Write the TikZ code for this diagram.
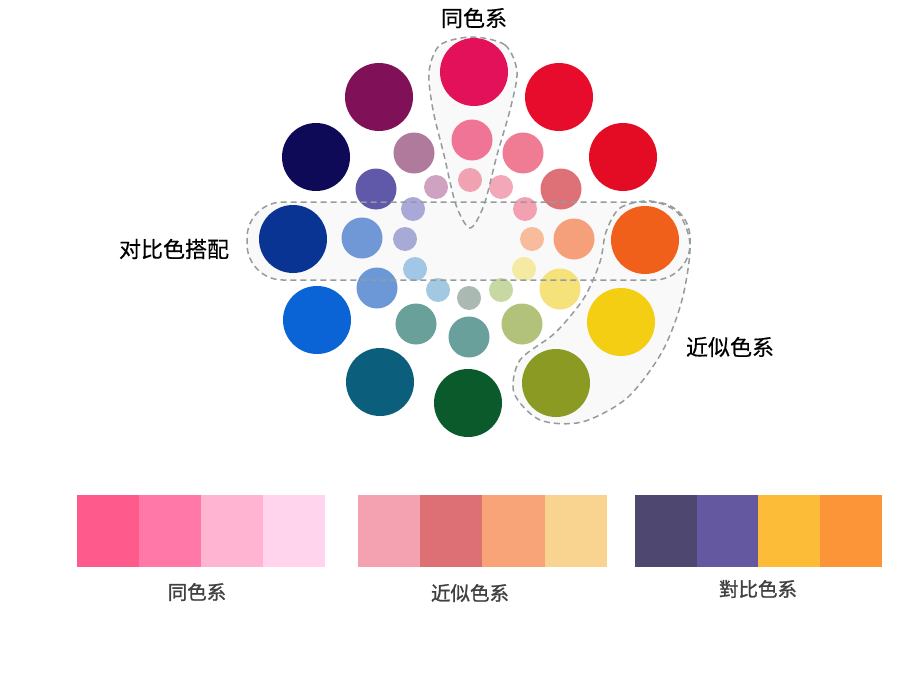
\documentclass[tikz,border=0pt]{standalone}
\usepackage{fontspec}
\usepackage{tikz}
\newfontfamily\cjk[FakeBold=0.4]{Noto Sans CJK SC}
\newfontfamily\cjkheavy[FakeBold=1.2]{Noto Sans CJK SC}

\definecolor{oCrimson}{HTML}{E3105A}
\definecolor{oRedA}{HTML}{E80C2C}
\definecolor{oRedB}{HTML}{E40C24}
\definecolor{oOrange}{HTML}{F0601A}
\definecolor{oYellow}{HTML}{F4CE12}
\definecolor{oOlive}{HTML}{8A9A22}
\definecolor{oGreen}{HTML}{0B5A2C}
\definecolor{oTeal}{HTML}{0B5E7C}
\definecolor{oBlue}{HTML}{0A64D6}
\definecolor{oCobalt}{HTML}{0A3494}
\definecolor{oNavy}{HTML}{0E0A58}
\definecolor{oPlum}{HTML}{801058}

\definecolor{mPink}{HTML}{F07496}
\definecolor{mPinkB}{HTML}{F07C94}
\definecolor{mRose}{HTML}{DE7078}
\definecolor{mSalmon}{HTML}{F5A07A}
\definecolor{mLemon}{HTML}{F5E27A}
\definecolor{mSage}{HTML}{B2C27A}
\definecolor{mTealA}{HTML}{6AA09C}
\definecolor{mTealB}{HTML}{6AA09A}
\definecolor{mBlueA}{HTML}{6C98D8}
\definecolor{mBlueB}{HTML}{7098D6}
\definecolor{mSlate}{HTML}{6058A8}
\definecolor{mMauve}{HTML}{B07A9C}

\definecolor{iPinkA}{HTML}{F0A2B2}
\definecolor{iPinkB}{HTML}{F2A8B8}
\definecolor{iPinkC}{HTML}{F2A0B2}
\definecolor{iPeach}{HTML}{F8BC9C}
\definecolor{iCream}{HTML}{F5EAA2}
\definecolor{iMint}{HTML}{C8D8A2}
\definecolor{iGrey}{HTML}{AABAB2}
\definecolor{iSkyA}{HTML}{A2C8E2}
\definecolor{iSkyB}{HTML}{A2C6E6}
\definecolor{iLilacA}{HTML}{A8AAD6}
\definecolor{iLilacB}{HTML}{AAA8D8}
\definecolor{iOrchid}{HTML}{D0A2C2}

\definecolor{sPinkA}{HTML}{FF5A8C}
\definecolor{sPinkB}{HTML}{FF78A8}
\definecolor{sPinkC}{HTML}{FFB4D2}
\definecolor{sPinkD}{HTML}{FFD4EC}
\definecolor{sNearA}{HTML}{F4A2B2}
\definecolor{sNearB}{HTML}{DC7074}
\definecolor{sNearC}{HTML}{F8A478}
\definecolor{sNearD}{HTML}{F8D490}
\definecolor{sDuoA}{HTML}{4E4870}
\definecolor{sDuoB}{HTML}{6458A0}
\definecolor{sDuoC}{HTML}{FCBC38}
\definecolor{sDuoD}{HTML}{FC9438}
\definecolor{dashgray}{HTML}{949C9C}
\definecolor{capgray}{HTML}{404040}
\definecolor{haze}{HTML}{F9F9F9}

\begin{document}
\begin{tikzpicture}[x=1pt, y=-1pt,
    big/.style={circle, inner sep=0pt, minimum size=68pt},
    mid/.style={circle, inner sep=0pt, minimum size=41pt},
    small/.style={circle, inner sep=0pt, minimum size=24pt},
    zone/.style={dashgray, line width=1.5pt, dash pattern=on 6pt off 4pt},
    swatch/.style={rectangle, inner sep=0pt, outer sep=0pt, minimum width=62.5pt, minimum height=72pt},
    tag/.style={font=\cjk\fontsize{22}{25}\selectfont},
    caption/.style={font=\cjkheavy\fontsize{19.5}{22}\selectfont, text=capgray}]
  \useasboundingbox[fill=white] (0,0) rectangle (920,690);

  % light fill of the three groups
  \fill[haze, rounded corners=36pt] (247,202) rectangle (690,280);
  \fill[haze] plot[smooth cycle] coordinates {(472,37) (505,45) (517,72) (510,110) (497,155) (484,205) (470,228) (456,205) (444,155) (433,110) (429,72) (440,45)};
  \fill[haze] plot[smooth cycle] coordinates {(606,232) (620,208) (650,201) (678,213) (690,245) (682,300) (662,352) (627,398) (582,422) (540,420) (514,393) (520,360) (555,333) (584,298) (600,262)};

  % outer ring
  \node[big, fill=oCrimson] (o1) at (474,72) {};
  \node[big, fill=oRedA] (o2) at (559,97) {};
  \node[big, fill=oRedB] (o3) at (623,157) {};
  \node[big, fill=oOrange] (o4) at (645,240) {};
  \node[big, fill=oYellow] (o5) at (621,322) {};
  \node[big, fill=oOlive] (o6) at (556,383) {};
  \node[big, fill=oGreen] (o7) at (468,403) {};
  \node[big, fill=oTeal] (o8) at (380,382) {};
  \node[big, fill=oBlue] (o9) at (317,320) {};
  \node[big, fill=oCobalt] (o10) at (293,239) {};
  \node[big, fill=oNavy] (o11) at (316,157) {};
  \node[big, fill=oPlum] (o12) at (379,97) {};

  % middle ring
  \node[mid, fill=mPink] (m1) at (472,140) {};
  \node[mid, fill=mPinkB] (m2) at (523,153) {};
  \node[mid, fill=mRose] (m3) at (561,189) {};
  \node[mid, fill=mSalmon] (m4) at (574,239) {};
  \node[mid, fill=mLemon] (m5) at (560,289) {};
  \node[mid, fill=mSage] (m6) at (522,324) {};
  \node[mid, fill=mTealA] (m7) at (469,337) {};
  \node[mid, fill=mTealB] (m8) at (416,324) {};
  \node[mid, fill=mBlueA] (m9) at (377,288) {};
  \node[mid, fill=mBlueB] (m10) at (362,238) {};
  \node[mid, fill=mSlate] (m11) at (376,189) {};
  \node[mid, fill=mMauve] (m12) at (414,153) {};

  % inner ring
  \node[small, fill=iPinkA] (i1) at (470,180) {};
  \node[small, fill=iPinkB] (i2) at (501,187) {};
  \node[small, fill=iPinkC] (i3) at (525,209) {};
  \node[small, fill=iPeach] (i4) at (532,239) {};
  \node[small, fill=iCream] (i5) at (524,269) {};
  \node[small, fill=iMint] (i6) at (501,290) {};
  \node[small, fill=iGrey] (i7) at (469,298) {};
  \node[small, fill=iSkyA] (i8) at (438,290) {};
  \node[small, fill=iSkyB] (i9) at (415,269) {};
  \node[small, fill=iLilacA] (i10) at (405,239) {};
  \node[small, fill=iLilacB] (i11) at (413,209) {};
  \node[small, fill=iOrchid] (i12) at (436,187) {};

  % dashed outlines
  \draw[zone, rounded corners=36pt] (247,202) rectangle (690,280);
  \draw[zone] plot[smooth cycle] coordinates {(472,37) (505,45) (517,72) (510,110) (497,155) (484,205) (470,228) (456,205) (444,155) (433,110) (429,72) (440,45)};
  \draw[zone] plot[smooth cycle] coordinates {(606,232) (620,208) (650,201) (678,213) (690,245) (682,300) (662,352) (627,398) (582,422) (540,420) (514,393) (520,360) (555,333) (584,298) (600,262)};

  \node[tag] (same) at (474,18) {同色系};
  \node[tag] (contrast) at (174,249) {对比色搭配};
  \node[tag] (near) at (730,347) {近似色系};

  % swatch bars
  \node[swatch, fill=sPinkA] (s1) at (108,531) {};
  \node[swatch, fill=sPinkB] (s2) at (170,531) {};
  \node[swatch, fill=sPinkC] (s3) at (232,531) {};
  \node[swatch, fill=sPinkD] (s4) at (294,531) {};
  \node[swatch, fill=sNearA] (n1) at (389,531) {};
  \node[swatch, fill=sNearB] (n2) at (451,531) {};
  \node[swatch, fill=sNearC] (n3) at (513.5,531) {};
  \node[swatch, fill=sNearD] (n4) at (576,531) {};
  \node[swatch, fill=sDuoA] (d1) at (666,531) {};
  \node[swatch, fill=sDuoB] (d2) at (728,531) {};
  \node[swatch, fill=sDuoC] (d3) at (789.5,531) {};
  \node[swatch, fill=sDuoD] (d4) at (851,531) {};

  \node[caption] (sameCap) at (197,592) {同色系};
  \node[caption] (nearCap) at (470,593) {近似色系};
  \node[caption] (duoCap) at (758,589) {對比色系};
\end{tikzpicture}
\end{document}
